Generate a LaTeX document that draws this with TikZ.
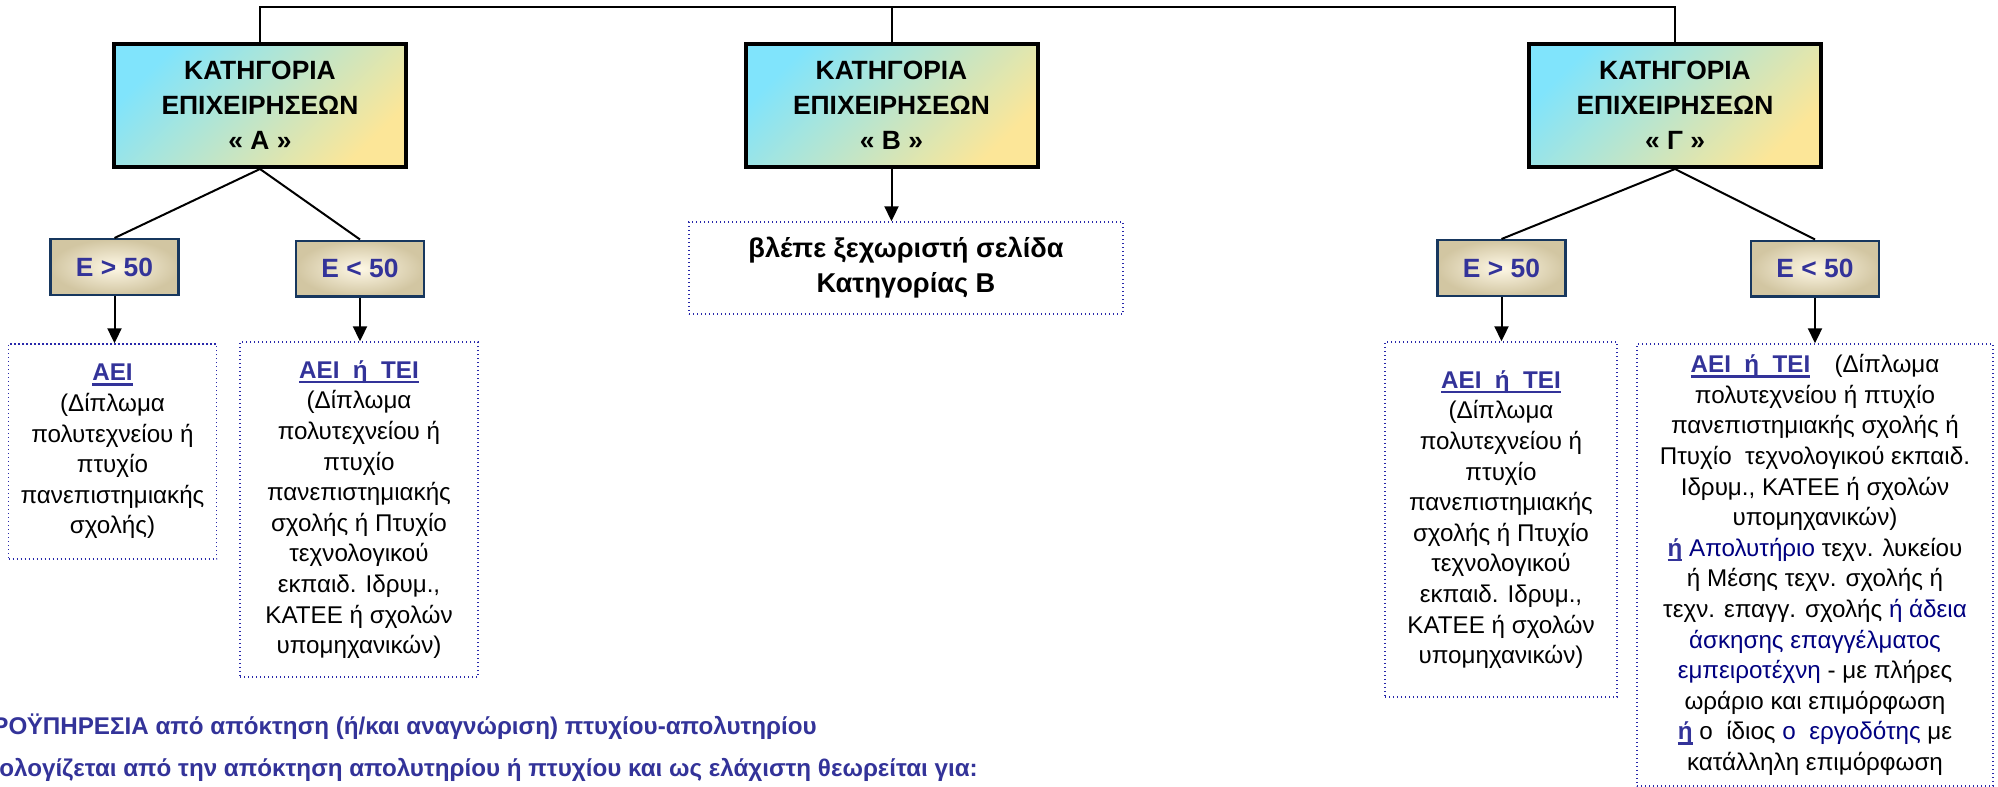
\documentclass[tikz,border=0pt]{standalone}
\usepackage{fontspec}
\setmainfont{Liberation Sans}
\usetikzlibrary{arrows.meta}

\definecolor{catcyan}{RGB}{128,228,252}
\definecolor{catyellow}{RGB}{252,230,152}
\definecolor{condtext}{RGB}{51,51,153}
\definecolor{condedge}{RGB}{23,55,94}
\definecolor{condlight}{RGB}{254,248,230}
\definecolor{conddark}{RGB}{210,198,162}
\definecolor{dotblue}{RGB}{40,40,170}
\definecolor{navytext}{RGB}{0,0,128}

% blue bold underlined degree name
\newcommand{\ulblue}[1]{\textcolor{condtext}{\bfseries\setbox0\hbox{#1}\rlap{\rule[-2.5pt]{\wd0}{1.3pt}}\box0}}

\begin{document}
\begin{tikzpicture}[x=0.5pt, y=-0.5pt, >={Triangle[width=7pt,length=7.5pt]}]
        \useasboundingbox (0,0) rectangle (1998,787);
        \clip (0,0) rectangle (1998,787);
        \begin{scope}[every node/.style={draw=black, line width=2pt, top color=catcyan, bottom color=catyellow, shading angle=45, minimum width=146pt, minimum height=61.5pt, align=center, font=\bfseries\fontsize{13.2}{17.5}\selectfont}]
                \node (A) at (260,105.5) {ΚΑΤΗΓΟΡΙΑ\\ΕΠΙΧΕΙΡΗΣΕΩΝ\\« Α »};
                \node (B) at (891.5,105.5) {ΚΑΤΗΓΟΡΙΑ\\ΕΠΙΧΕΙΡΗΣΕΩΝ\\« Β »};
                \node (G) at (1675,105.5) {ΚΑΤΗΓΟΡΙΑ\\ΕΠΙΧΕΙΡΗΣΕΩΝ\\« Γ »};
        \end{scope}
        \begin{scope}[every node/.style={draw=condedge, line width=1.2pt, inner color=condlight, outer color=conddark, minimum width=64pt, minimum height=27.8pt, text=condtext, font=\bfseries\fontsize{13.2}{16}\selectfont}]
                \node (A1) at (114.5,267) {E > 50};
                \node (A2) at (360,268.5) {E < 50};
                \node (G1) at (1501.5,268) {E > 50};
                \node (G2) at (1815,268.5) {E < 50};
        \end{scope}
        \begin{scope}[every node/.style={draw=dotblue, line width=0.7pt, dash pattern=on 0.7pt off 1.3pt, align=center, inner sep=2pt, font=\fontsize{12.1}{15.3}\selectfont}]
                \node [minimum width=104pt, minimum height=107.5pt] (RA1) at (112.5,451.5) {\ulblue{ΑΕΙ}\\(Δίπλωμα\\πολυτεχνείου ή\\πτυχίο\\πανεπιστημιακής\\σχολής)};
                \node [minimum width=119pt, minimum height=167.5pt] (RA2) at (359,509.5) {\ulblue{ΑΕΙ~~ή~~ΤΕΙ}\\(Δίπλωμα\\πολυτεχνείου ή\\πτυχίο\\πανεπιστημιακής\\σχολής ή Πτυχίο\\τεχνολογικού\\εκπαιδ. Ιδρυμ.,\\ΚΑΤΕΕ ή σχολών\\υπομηχανικών)};
                \node [minimum width=217pt, minimum height=46pt, font=\bfseries\fontsize{13.6}{17.5}\selectfont] (BN) at (906,268) {βλέπε ξεχωριστή σελίδα\\Κατηγορίας Β};
                \node [minimum width=116pt, minimum height=177.5pt] (RG1) at (1501,519.5) {\ulblue{ΑΕΙ~~ή~~ΤΕΙ}\\(Δίπλωμα\\πολυτεχνείου ή\\πτυχίο\\πανεπιστημιακής\\σχολής ή Πτυχίο\\τεχνολογικού\\εκπαιδ. Ιδρυμ.,\\ΚΑΤΕΕ ή σχολών\\υπομηχανικών)};
                \node [minimum width=178pt, minimum height=221pt] (RG2) at (1815,565) {\ulblue{ΑΕΙ~~ή~~ΤΕΙ}\quad(Δίπλωμα\\
                        πολυτεχνείου ή πτυχίο\\
                        πανεπιστημιακής σχολής ή\\
                        Πτυχίο~~τεχνολογικού εκπαιδ.\\
                        Ιδρυμ., ΚΑΤΕΕ ή σχολών\\
                        υπομηχανικών)\\
                        \ulblue{ή} \textcolor{navytext}{Απολυτήριο} τεχν. λυκείου\\
                        ή Μέσης τεχν. σχολής ή\\
                        τεχν. επαγγ. σχολής \textcolor{navytext}{ή άδεια}\\
                        \textcolor{navytext}{άσκησης επαγγέλματος}\\
                        \textcolor{navytext}{εμπειροτέχνη} - με πλήρες\\
                        ωράριο και επιμόρφωση\\
                        \ulblue{ή} ο~~ίδιος \textcolor{navytext}{ο~~εργοδότης} με\\
                        κατάλληλη επιμόρφωση};
        \end{scope}
        \begin{scope}[every node/.style={anchor=base east, inner sep=0pt, text=condtext, font=\bfseries\fontsize{12.1}{14}\selectfont}]
                \node (N1) at (817,734) {ΠΡΟΫΠΗΡΕΣΙΑ από απόκτηση (ή/και αναγνώριση) πτυχίου-απολυτηρίου};
                \node (N2) at (978,776) {Υπολογίζεται από την απόκτηση απολυτηρίου ή πτυχίου και ως ελάχιστη θεωρείται για:};
        \end{scope}
        \coordinate (top) at (B.north |- 0,7);
        \begin{scope}[every path/.style={line width=1pt}]
                \draw (A.north) |- (top) -| (G.north);
                \draw (top) -- (B.north);
                \draw (A.south) -- (A1.north);
                \draw (A.south) -- (A2.north);
                \draw (G.south) -- (G1.north);
                \draw (G.south) -- (G2.north);
                \draw [->] (A1.south) -- (A1.south |- RA1.north);
                \draw [->] (A2.south) -- (A2.south |- RA2.north);
                \draw [->] (B.south) -- (B.south |- BN.north);
                \draw [->] (G1.south) -- (G1.south |- RG1.north);
                \draw [->] (G2.south) -- (G2.south |- RG2.north);
        \end{scope}
\end{tikzpicture}
\end{document}
